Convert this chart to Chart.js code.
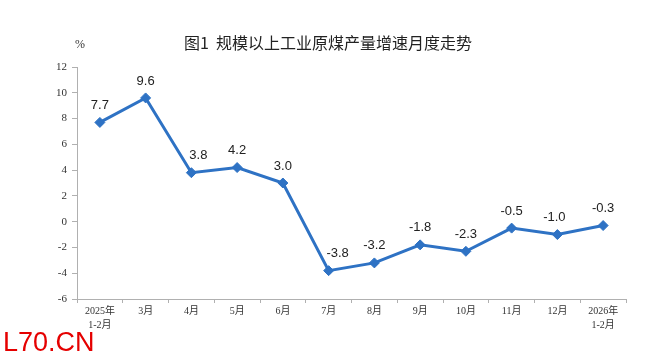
<!DOCTYPE html>
<html>
<head>
<meta charset="utf-8">
<script src="https://cdn.jsdelivr.net/npm/chart.js@4.4.1/dist/chart.umd.min.js"></script>
<style>
html,body{margin:0;padding:0;background:#fff;}
#wrap{width:665px;height:360px;position:relative;}
</style>
</head>
<body>
<div id="wrap"><canvas id="c" width="665" height="360"></canvas></div>
<script>
const categories = [["2025年","1-2月"],"3月","4月","5月","6月","7月","8月","9月","10月","11月","12月",["2026年","1-2月"]];
const growthValues = [7.7, 9.6, 3.8, 4.2, 3.0, -3.8, -3.2, -1.8, -2.3, -0.5, -1.0, -0.3];
const yTicks = [12, 10, 8, 6, 4, 2, 0, -2, -4, -6];
const titleText = "图1  规模以上工业原煤产量增速月度走势";
const unitText = "%";
const watermarkText = "L70.CN";

const LINE = "#2e72c4";
// label nudges (style only)
const labelStyle = { dy: -17, dx: { 2: 7, 5: 9, 10: -3 } };

const decor = {
  id: 'decor',
  afterDraw(chart) {
    const ctx = chart.ctx;
    ctx.save();
    ctx.fillStyle = "#222";
    ctx.font = "400 16px 'Noto Sans CJK SC'";
    ctx.textAlign = "center";
    ctx.textBaseline = "middle";
    ctx.fillText(titleText, 328, 43);
    ctx.font = "12px 'Liberation Serif'";
    ctx.fillStyle = "#333";
    ctx.fillText(unitText, 80, 45);
    ctx.font = "27px 'Liberation Sans'";
    ctx.fillStyle = "#e50000";
    ctx.textAlign = "left";
    ctx.textBaseline = "alphabetic";
    ctx.fillText(watermarkText, 3, 351);
    ctx.restore();
  },
  afterDatasetsDraw(chart) {
    const ctx = chart.ctx;
    const meta = chart.getDatasetMeta(0);
    ctx.save();
    ctx.fillStyle = "#222";
    ctx.font = "13px 'Liberation Sans'";
    ctx.textAlign = "center";
    ctx.textBaseline = "middle";
    meta.data.forEach((pt, i) => {
      const dx = labelStyle.dx[i] || 0;
      ctx.fillText(growthValues[i].toFixed(1), pt.x + dx, pt.y + labelStyle.dy);
    });
    ctx.restore();
  }
};

new Chart(document.getElementById('c'), {
  type: 'line',
  data: {
    labels: categories,
    datasets: [{
      data: growthValues,
      borderColor: LINE,
      backgroundColor: LINE,
      borderWidth: 3,
      pointStyle: 'rectRot',
      pointRadius: 5,
      pointBorderWidth: 1,
      pointBackgroundColor: LINE,
      pointBorderColor: LINE,
      tension: 0
    }]
  },
  options: {
    responsive: false,
    animation: false,
    devicePixelRatio: 1,
    layout: { padding: { top: 67, right: 39, bottom: 0, left: 0 } },
    plugins: { legend: { display: false }, tooltip: { enabled: false }, title: { display: false } },
    scales: {
      x: {
        offset: true,
        grid: { offset: true, drawOnChartArea: false, drawTicks: true, tickLength: 4, color: "#b0b0b0" },
        border: { color: "#b0b0b0", width: 1 },
        ticks: { color: "#333", font: { family: "'Liberation Serif','Noto Sans CJK SC'", size: 10, lineHeight: 1.35 }, maxRotation: 0, autoSkip: false, padding: 2 },
        afterFit(scale) { scale.height = 61; }
      },
      y: {
        min: -6, max: 12,
        afterBuildTicks(scale) { scale.ticks = yTicks.map(v => ({ value: v })); },
        grid: { drawOnChartArea: false, drawTicks: true, tickLength: 5, color: "#b0b0b0" },
        border: { color: "#b0b0b0", width: 1 },
        ticks: { color: "#333", font: { family: "'Liberation Serif'", size: 11 }, padding: 5 },
        afterFit(scale) { scale.width = 77; }
      }
    }
  },
  plugins: [decor]
});
</script>
</body>
</html>
